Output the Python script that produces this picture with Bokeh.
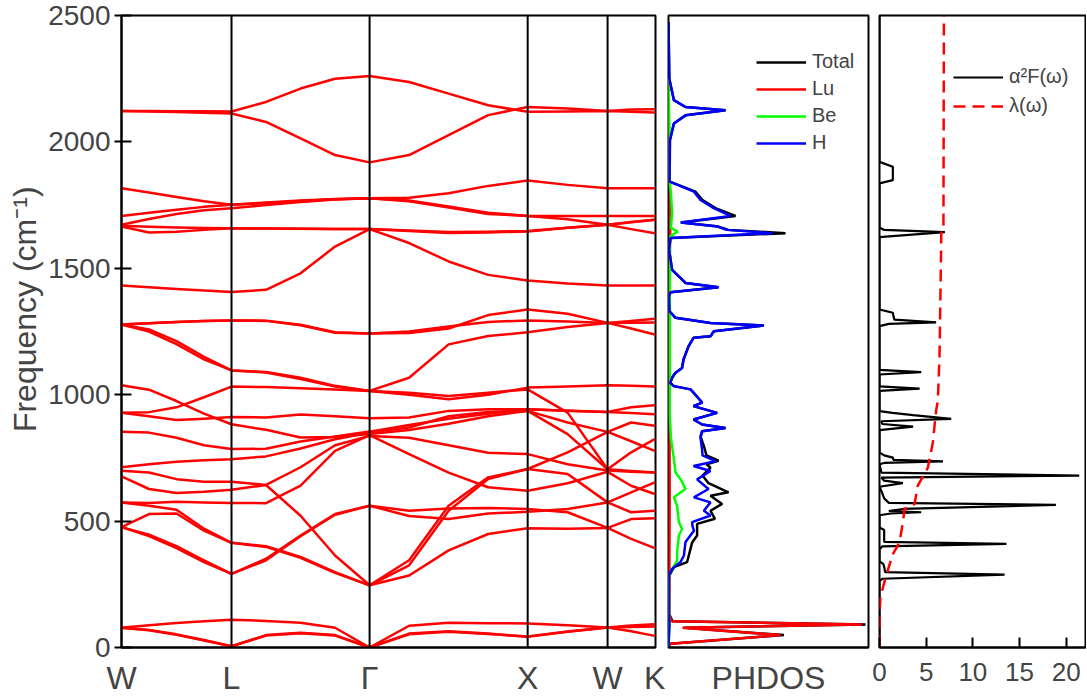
from bokeh.plotting import figure
from bokeh.layouts import row
from bokeh.models import Range1d, FixedTicker, Legend, LegendItem, Span
from bokeh.embed import file_html
from bokeh.resources import INLINE

FONT = "Liberation Sans"

# ---------------- band structure data ----------------
kpt_labels = ["W", "L", "Γ", "X", "W", "K"]
kpt_pos = [0.0, 0.698, 1.574, 2.577, 3.084, 3.383]
k_subdiv = [4, 4, 4, 2, 2]

band_01 = [78, 88, 97, 104, 110, 105, 98, 78, 0, 86, 98, 96, 95, 88, 79, 87, 92]
band_02 = [78, 69, 52, 30, 5, 49, 58, 49, 0, 55, 64, 55, 42, 62, 79, 64, 46]
band_03 = [78, 68, 50, 28, 5, 47, 56, 47, 0, 52, 62, 53, 44, 63, 79, 81, 83]
band_04 = [476, 441, 393, 338, 291, 351, 443, 528, 561, 541, 550, 552, 548, 535, 473, 430, 393]
band_05 = [476, 446, 401, 345, 291, 345, 440, 525, 561, 520, 508, 530, 537, 548, 574, 535, 541]
band_06 = [476, 528, 530, 462, 414, 401, 358, 298, 246, 285, 384, 449, 472, 470, 473, 508, 511]
band_07 = [574, 561, 545, 470, 414, 398, 355, 295, 246, 325, 541, 666, 706, 686, 574, 614, 653]
band_08 = [699, 692, 666, 656, 656, 643, 521, 364, 246, 345, 561, 673, 706, 772, 853, 890, 877]
band_09 = [574, 572, 577, 574, 572, 571, 640, 778, 840, 765, 692, 634, 620, 650, 695, 640, 607]
band_10 = [677, 627, 611, 616, 624, 643, 713, 800, 837, 830, 800, 770, 765, 725, 700, 695, 692]
band_11 = [713, 725, 735, 741, 745, 756, 787, 824, 850, 870, 915, 932, 936, 844, 705, 772, 824]
band_12 = [853, 850, 830, 800, 785, 786, 815, 835, 854, 880, 905, 925, 942, 937, 932, 950, 958]
band_13 = [1037, 1020, 975, 925, 883, 861, 831, 833, 845, 860, 885, 915, 936, 890, 853, 816, 778]
band_14 = [929, 915, 900, 905, 912, 910, 922, 915, 907, 910, 936, 942, 942, 937, 932, 928, 923]
band_15 = [929, 931, 950, 990, 1032, 1030, 1026, 1021, 1015, 1000, 982, 1000, 1028, 1032, 1037, 1035, 1032]
band_16 = [1278, 1258, 1212, 1150, 1096, 1090, 1067, 1035, 1015, 1067, 1199, 1232, 1247, 1268, 1284, 1285, 1286]
band_17 = [1278, 1250, 1200, 1140, 1096, 1088, 1062, 1032, 1015, 1008, 995, 1008, 1021, 929, 705, 698, 692]
band_18 = [1278, 1283, 1288, 1292, 1294, 1293, 1277, 1247, 1242, 1250, 1270, 1288, 1294, 1290, 1284, 1292, 1300]
band_19 = [1278, 1283, 1288, 1292, 1294, 1292, 1275, 1245, 1242, 1244, 1262, 1315, 1337, 1320, 1284, 1262, 1238]
band_20 = [1432, 1425, 1418, 1412, 1406, 1415, 1480, 1586, 1655, 1600, 1527, 1474, 1452, 1440, 1432, 1432, 1432]
band_21 = [1665, 1642, 1645, 1652, 1658, 1657, 1656, 1655, 1655, 1648, 1640, 1642, 1646, 1660, 1672, 1682, 1692]
band_22 = [1668, 1664, 1661, 1659, 1658, 1657, 1656, 1655, 1655, 1650, 1644, 1645, 1648, 1660, 1672, 1683, 1692]
band_23 = [1672, 1695, 1715, 1730, 1738, 1750, 1762, 1772, 1777, 1765, 1740, 1715, 1707, 1694, 1672, 1655, 1639]
band_24 = [1707, 1720, 1732, 1743, 1751, 1758, 1766, 1773, 1777, 1768, 1745, 1720, 1707, 1707, 1707, 1707, 1707]
band_25 = [1817, 1800, 1782, 1765, 1751, 1760, 1768, 1774, 1777, 1779, 1797, 1826, 1847, 1830, 1817, 1817, 1817]
band_26 = [2122, 2122, 2121, 2121, 2120, 2158, 2211, 2250, 2261, 2237, 2191, 2145, 2119, 2120, 2122, 2119, 2116]
band_27 = [2122, 2120, 2118, 2115, 2112, 2079, 2014, 1948, 1919, 1948, 2027, 2106, 2138, 2132, 2122, 2128, 2129]

bands = [band_01, band_02, band_03, band_04, band_05, band_06, band_07, band_08, band_09,
         band_10, band_11, band_12, band_13, band_14, band_15, band_16, band_17, band_18,
         band_19, band_20, band_21, band_22, band_23, band_24, band_25, band_26, band_27]

# ---------------- phonon DOS data ----------------
tot_f = [0, 15, 49, 78, 91, 104, 131, 260, 285, 318, 338, 390, 415, 443, 489, 509, 541, 568, 600, 614,
         650, 680, 711, 725, 739, 760, 796, 835, 855, 868, 882, 902, 928, 955, 969, 1008, 1021, 1034, 1047, 1070,
         1087, 1106, 1139, 1191, 1225, 1231, 1251, 1274, 1284, 1304, 1330, 1389, 1405, 1425, 1442, 1494, 1573, 1620, 1639, 1652,
         1665, 1681, 1707, 1738, 1770, 1803, 1843, 2007, 2073, 2105, 2125, 2138, 2165, 2250, 2473]
tot_v = [0, 0.01, 0.577, 0.077, 0.985, 0.02, 0.004, 0.004, 0.005, 0.027, 0.093, 0.11, 0.118, 0.143, 0.143, 0.232, 0.21, 0.268, 0.21, 0.3,
         0.2, 0.17, 0.21, 0.19, 0.25, 0.19, 0.177, 0.16, 0.168, 0.285, 0.168, 0.125, 0.243, 0.125, 0.168, 0.125, 0.11, 0.027, 0.008, 0.02,
         0.035, 0.068, 0.075, 0.1, 0.125, 0.21, 0.227, 0.477, 0.21, 0.035, 0.005, 0.002, 0.01, 0.25, 0.085, 0.018, 0.003, 0.01, 0.585, 0.3,
         0.25, 0.065, 0.335, 0.235, 0.17, 0.135, 0.006, 0.007, 0.027, 0.085, 0.285, 0.085, 0.027, 0.004, 0.0]

lu_f = [0, 15, 49, 78, 91, 104, 131, 260, 600, 1000, 1300, 1640, 1700, 1800, 1850, 2250]
lu_v = [0, 0.008, 0.56, 0.07, 0.968, 0.015, 0.002, 0.004, 0.006, 0.005, 0.003, 0.008, 0.01, 0.008, 0.003, 0.0]

be_f = [0, 93, 131, 260, 285, 311, 343, 377, 443, 469, 496, 561, 594, 627, 660, 693, 745, 830, 929, 1100,
        1600, 1627, 1645, 1660, 1718, 1760, 1800, 1845, 2000, 2250]
be_v = [0, 0.004, 0.002, 0.002, 0.003, 0.018, 0.043, 0.043, 0.052, 0.068, 0.052, 0.043, 0.027, 0.085, 0.065, 0.035, 0.027, 0.012, 0.006, 0.007,
        0.007, 0.01, 0.045, 0.012, 0.018, 0.015, 0.012, 0.005, 0.006, 0.0]

h_f = [0, 93, 131, 260, 285, 311, 338, 364, 417, 462, 480, 496, 522, 541, 574, 594, 627, 665, 698, 718,
       737, 760, 783, 829, 855, 868, 882, 902, 928, 955, 969, 1008, 1021, 1034, 1047, 1070, 1087, 1106, 1139, 1191,
       1225, 1231, 1251, 1274, 1284, 1304, 1330, 1389, 1405, 1425, 1442, 1494, 1573, 1620, 1639, 1652, 1665, 1681, 1707, 1738,
       1770, 1803, 1843, 2007, 2073, 2105, 2125, 2138, 2165, 2250, 2473]
h_v = [0, 0.005, 0.001, 0.001, 0.002, 0.018, 0.06, 0.077, 0.085, 0.127, 0.12, 0.118, 0.21, 0.177, 0.21, 0.127, 0.2, 0.143, 0.21, 0.125,
       0.235, 0.17, 0.168, 0.16, 0.168, 0.285, 0.168, 0.125, 0.243, 0.125, 0.168, 0.125, 0.11, 0.027, 0.008, 0.02, 0.035, 0.068, 0.075, 0.1,
       0.125, 0.21, 0.227, 0.477, 0.21, 0.035, 0.005, 0.002, 0.01, 0.25, 0.085, 0.018, 0.003, 0.01, 0.52, 0.29, 0.245, 0.06, 0.31, 0.226,
       0.16, 0.127, 0.005, 0.007, 0.027, 0.085, 0.285, 0.085, 0.027, 0.004, 0.0]

# ---------------- Eliashberg function data ----------------
a2f_f = [0, 262, 272, 288, 298, 320, 331, 340, 389, 400, 410, 418, 455, 465, 475, 523, 530, 535, 540, 548,
         564, 572, 590, 610, 636, 650, 660, 672, 680, 692, 725, 730, 736, 742, 751, 760, 771, 860, 874, 884,
         895, 904, 919, 928, 935, 1015, 1024, 1033, 1080, 1089, 1098, 1271, 1280, 1286, 1297, 1310, 1324, 1337, 1623, 1643,
         1652, 1660, 1836, 1849, 1902, 1921, 2500]
a2f_v = [0, 0, 0.3, 13.4, 0.6, 0.5, 0.4, 0, 0, 0.3, 13.6, 0.5, 0.5, 0.5, 0, 0, 1.2, 4.47, 1.0, 2.5,
         18.9, 1.0, 0.5, 0.3, 0, 2.5, 0.5, 0.2, 21.4, 0.2, 0, 0.5, 6.8, 1.5, 1.43, 0.5, 0, 0, 3.6, 0.3,
         0.2, 7.68, 3.6, 1.4, 0, 0, 4.3, 0, 0, 4.47, 0, 0, 1.0, 6.07, 1.6, 1.5, 1.43, 0, 0, 7.0,
         0.5, 0, 0, 1.43, 1.43, 0, 0]
lam_f = [0, 131, 200, 284, 369, 415, 494, 548, 567, 640, 711, 810, 938, 976, 1152, 1573, 1640, 1648, 2500]
lam_v = [0, 0, 0.1, 0.71, 1.43, 2.14, 2.5, 2.68, 3.75, 4.1, 5.18, 5.71, 6.07, 6.25, 6.43, 6.6, 6.62, 6.85, 6.9]

y_ticks = [0, 500, 1000, 1500, 2000, 2500]
a2f_ticks = [0, 5, 10, 15, 20]

# ---------------- k path sample positions ----------------
kpath = []
for i, n in enumerate(k_subdiv):
    a, b = kpt_pos[i], kpt_pos[i + 1]
    for j in range(n):
        kpath.append(a + (b - a) * j / n)
kpath.append(kpt_pos[-1])

H = 698
TOP, BOT = 15, 49


def style_common(p):
    p.grid.visible = False
    p.outline_line_color = "black"
    p.outline_line_width = 2
    p.outline_line_alpha = 1.0
    p.background_fill_color = "white"
    p.border_fill_color = "white"


# ---------- panel 1: dispersion ----------
p1 = figure(width=666, height=H, x_range=Range1d(0, 3.388), y_range=Range1d(0, 2500),
            output_backend="svg", toolbar_location=None,
            min_border_left=121, min_border_right=11, min_border_top=TOP, min_border_bottom=BOT)
style_common(p1)
p1.multi_line(xs=[kpath] * len(bands), ys=bands, line_color="#FF0000", line_width=2.5,
              line_join="round")
for kx in kpt_pos[1:5]:
    p1.add_layout(Span(location=kx, dimension="height", line_color="black", line_width=2))

p1.yaxis.ticker = FixedTicker(ticks=y_ticks)
p1.yaxis.major_label_text_font = FONT
p1.yaxis.major_label_text_font_size = "28px"
p1.yaxis.major_label_standoff = 4
p1.yaxis.major_tick_in = 10
p1.yaxis.major_tick_out = 7
p1.yaxis.major_tick_line_width = 2
p1.yaxis.minor_tick_in = 0
p1.yaxis.minor_tick_out = 0
p1.yaxis.axis_line_width = 2
p1.yaxis.axis_label = "\u00a0\u00a0\u00a0\u00a0\u00a0Frequency (cm⁻¹)"
p1.yaxis.axis_label_text_font = FONT
p1.yaxis.axis_label_text_font_size = "32px"
p1.yaxis.axis_label_text_font_style = "normal"
p1.yaxis.axis_label_standoff = 2

p1.xaxis.ticker = FixedTicker(ticks=kpt_pos)
p1.xaxis.major_label_overrides = {kpt_pos[i]: kpt_labels[i] for i in range(len(kpt_pos))}
p1.xaxis.major_label_text_font = FONT
p1.xaxis.major_label_text_font_size = "32px"
p1.xaxis.major_label_standoff = 12
p1.xaxis.major_tick_in = 0
p1.xaxis.major_tick_out = 0
p1.xaxis.minor_tick_in = 0
p1.xaxis.minor_tick_out = 0
p1.xaxis.axis_line_width = 2

# ---------- panel 2: PHDOS ----------
p2 = figure(width=205, height=H, x_range=Range1d(0, 1.0), y_range=p1.y_range,
            output_backend="svg", toolbar_location=None, y_axis_location=None,
            min_border_left=2, min_border_right=3, min_border_top=TOP, min_border_bottom=BOT)
style_common(p2)
r_tot = p2.line(tot_v, tot_f, line_color="black", line_width=2.5)
r_lu = p2.line(lu_v, lu_f, line_color="#FF0000", line_width=2.5)
r_be = p2.line(be_v, be_f, line_color="#00FF00", line_width=2.5)
r_h = p2.line(h_v, h_f, line_color="#0000FF", line_width=2.5)
p2.xaxis.ticker = FixedTicker(ticks=[0.5])
p2.xaxis.major_label_overrides = {0.5: "PHDOS"}
p2.xaxis.major_label_text_font = FONT
p2.xaxis.major_label_text_font_size = "32px"
p2.xaxis.major_label_standoff = 12
p2.xaxis.major_tick_in = 0
p2.xaxis.major_tick_out = 0
p2.xaxis.minor_tick_in = 0
p2.xaxis.minor_tick_out = 0
p2.xaxis.axis_line_width = 2

leg2 = Legend(items=[LegendItem(label="Total", renderers=[r_tot]),
                     LegendItem(label="Lu", renderers=[r_lu]),
                     LegendItem(label="Be", renderers=[r_be]),
                     LegendItem(label="H", renderers=[r_h])],
              location=(88, 493))
leg2.glyph_width = 50
leg2.glyph_height = 20
leg2.label_height = 20
leg2.spacing = 4
leg2.padding = 0
leg2.margin = 0
leg2.label_standoff = 6
leg2.label_text_font = FONT
leg2.label_text_font_size = "20px"
leg2.border_line_alpha = 0
leg2.background_fill_alpha = 0
p2.add_layout(leg2)

# ---------- panel 3: alpha^2F ----------
p3 = figure(width=215, height=H, x_range=Range1d(0, 22.07), y_range=p1.y_range,
            output_backend="svg", toolbar_location=None, y_axis_location=None,
            min_border_left=8, min_border_right=1, min_border_top=TOP, min_border_bottom=BOT)
style_common(p3)
r_a2f = p3.line(a2f_v, a2f_f, line_color="black", line_width=2.2)
r_lam = p3.line(lam_v, lam_f, line_color="#FF0000", line_width=2.5, line_dash="12 7")
p3.xaxis.ticker = FixedTicker(ticks=a2f_ticks)
p3.xaxis.major_label_text_font = FONT
p3.xaxis.major_label_text_font_size = "26px"
p3.xaxis.major_label_standoff = 15
p3.xaxis.major_tick_in = 10
p3.xaxis.major_tick_out = 0
p3.xaxis.major_tick_line_width = 2
p3.xaxis.minor_tick_in = 0
p3.xaxis.minor_tick_out = 0
p3.xaxis.axis_line_width = 2

leg3 = Legend(items=[LegendItem(label="α²F(ω)", renderers=[r_a2f]),
                     LegendItem(label="λ(ω)", renderers=[r_lam])],
              location=(74, 530))
leg3.glyph_width = 50
leg3.glyph_height = 20
leg3.label_height = 20
leg3.spacing = 6
leg3.padding = 0
leg3.margin = 0
leg3.label_standoff = 6
leg3.label_text_font = FONT
leg3.label_text_font_size = "20px"
leg3.border_line_alpha = 0
leg3.background_fill_alpha = 0
p3.add_layout(leg3)

layout = row(p1, p2, p3)
open("out.html", "w").write(file_html(layout, INLINE))
